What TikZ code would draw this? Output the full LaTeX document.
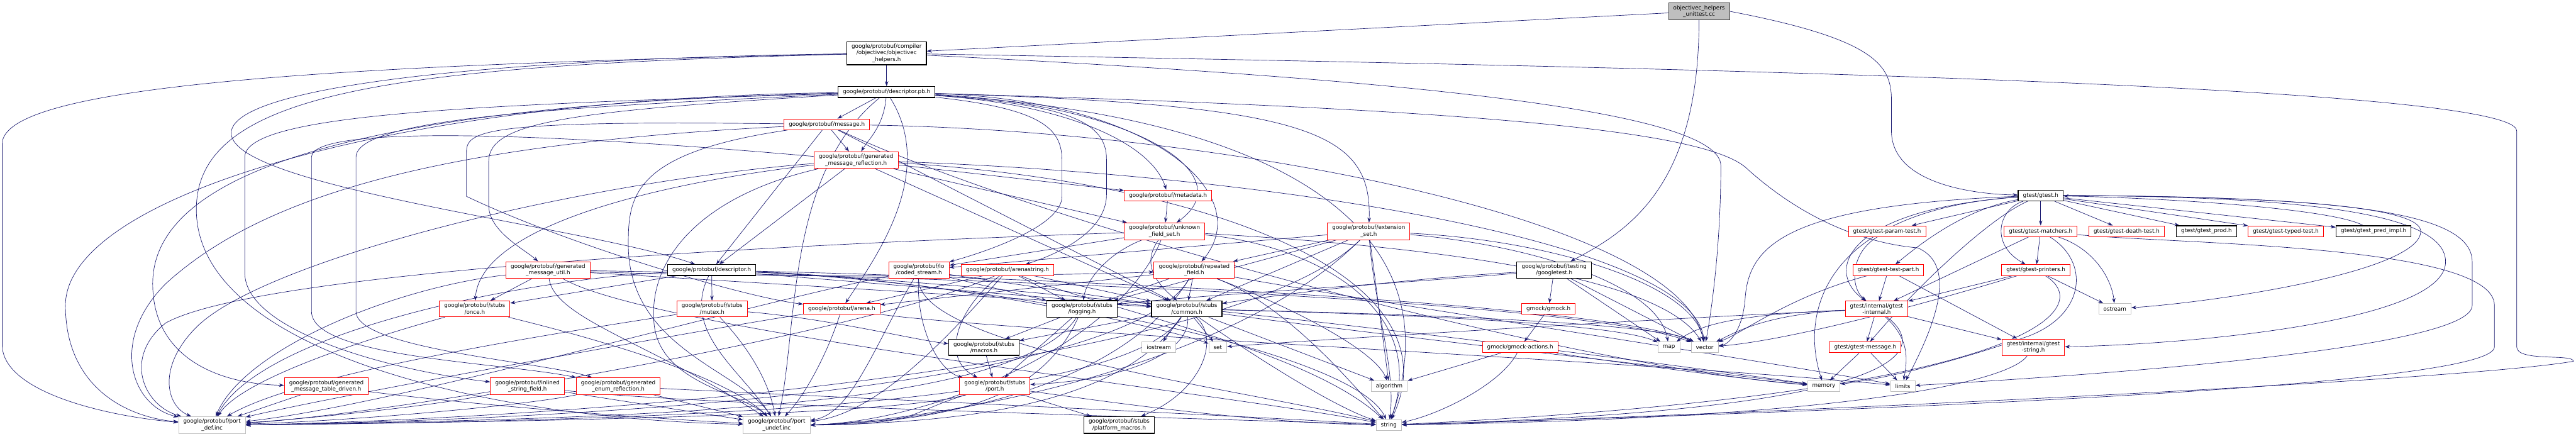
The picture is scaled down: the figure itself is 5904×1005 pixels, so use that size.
\documentclass[tikz,border=0pt]{standalone}
\usepackage{fontspec}
\setmainfont{DejaVu Sans}
\usepackage{tikz}
\usetikzlibrary{arrows.meta,backgrounds}
\definecolor{depblue}{HTML}{191970}
\definecolor{boxred}{HTML}{FF0000}
\definecolor{sysgray}{HTML}{BFBFBF}
\definecolor{rootgray}{HTML}{BFBFBF}

\begin{document}
\begin{tikzpicture}[x=0.1mm, y=-0.1mm,
      font=\fontsize{3.6}{4.2}\selectfont,
      file/.style={draw, fill=white, line width=0.4pt, inner xsep=1.1mm,
                   inner ysep=0.55mm, minimum height=2.5mm, align=center},
      hdr/.style={file, draw=black, line width=0.5pt},
      trunc/.style={file, draw=boxred},
      sys/.style={file, draw=sysgray},
      root/.style={file, draw=black!75, fill=rootgray},
      dep/.style={-{Stealth[length=1.15mm, width=0.8mm]}, draw=depblue, line width=0.28pt},
    ]
    \useasboundingbox (0,0) rectangle (5904,1005);

    % files, row by row
    \node[root]  (U)      at (3894,26)  {objectivec\_helpers\\\_unittest.cc};
    \node[hdr]   (OH)     at (2032,122) {google/protobuf/compiler\\/objectivec/objectivec\\\_helpers.h};
    \node[hdr]   (DPB)    at (2032,211) {google/protobuf/descriptor.pb.h};
    \node[trunc] (MSG)    at (1895,285) {google/protobuf/message.h};
    \node[trunc] (GMR)    at (1962,367) {google/protobuf/generated\\\_message\_reflection.h};
    \node[trunc] (META)   at (2677,448) {google/protobuf/metadata.h};
    \node[hdr]   (GTEST)  at (4677,448) {gtest/gtest.h};
    \node[trunc] (UFS)    at (2669,530) {google/protobuf/unknown\\\_field\_set.h};
    \node[trunc] (EXT)    at (3137,530) {google/protobuf/extension\\\_set.h};
    \node[trunc] (GPT)    at (4325,530) {gtest/gtest-param-test.h};
    \node[trunc] (GMAT)   at (4677,530) {gtest/gtest-matchers.h};
    \node[trunc] (GDT)    at (4874,530) {gtest/gtest-death-test.h};
    \node[hdr]   (GPROD)  at (5057,530) {gtest/gtest\_prod.h};
    \node[trunc] (GTT)    at (5239,530) {gtest/gtest-typed-test.h};
    \node[hdr]   (GPRED)  at (5440,530) {gtest/gtest\_pred\_impl.h};
    \node[trunc] (GMU)    at (1256,619) {google/protobuf/generated\\\_message\_util.h};
    \node[hdr]   (DESC)   at (1631,619) {google/protobuf/descriptor.h};
    \node[trunc] (CS)     at (2106,619) {google/protobuf/io\\/coded\_stream.h};
    \node[trunc] (ASTR)   at (2309,619) {google/protobuf/arenastring.h};
    \node[trunc] (RF)     at (2737,619) {google/protobuf/repeated\\\_field.h};
    \node[hdr]   (GTW)    at (3562,619) {google/protobuf/testing\\/googletest.h};
    \node[trunc] (GTP)    at (4328,619) {gtest/gtest-test-part.h};
    \node[trunc] (GPR)    at (4666,619) {gtest/gtest-printers.h};
    \node[trunc] (ONCE)   at (1088,708) {google/protobuf/stubs\\/once.h};
    \node[trunc] (MUTEX)  at (1632,708) {google/protobuf/stubs\\/mutex.h};
    \node[trunc] (ARENA)  at (1929,708) {google/protobuf/arena.h};
    \node[hdr]   (LOG)    at (2480,708) {google/protobuf/stubs\\/logging.h};
    \node[hdr]   (COMMON) at (2720,708) {google/protobuf/stubs\\/common.h};
    \node[trunc] (GMOCK)  at (3549,708) {gmock/gmock.h};
    \node[trunc] (GINT)   at (4301,708) {gtest/internal/gtest\\-internal.h};
    \node[sys]   (OST)    at (4847,708) {ostream};
    \node[hdr]   (MACROS) at (2255,796) {google/protobuf/stubs\\/macros.h};
    \node[sys]   (IOS)    at (2656,796) {iostream};
    \node[sys]   (SET)    at (2791,796) {set};
    \node[trunc] (GMA)    at (3484,796) {gmock/gmock-actions.h};
    \node[sys]   (MAP)    at (3825,796) {map};
    \node[sys]   (VEC)    at (3907,796) {vector};
    \node[trunc] (GMSG)   at (4275,796) {gtest/gtest-message.h};
    \node[trunc] (GSTR)   at (4660,796) {gtest/internal/gtest\\-string.h};
    \node[trunc] (TBL)    at (748,885)  {google/protobuf/generated\\\_message\_table\_driven.h};
    \node[trunc] (ISF)    at (1209,885) {google/protobuf/inlined\\\_string\_field.h};
    \node[trunc] (GER)    at (1417,885) {google/protobuf/generated\\\_enum\_reflection.h};
    \node[trunc] (PORT)   at (2280,885) {google/protobuf/stubs\\/port.h};
    \node[sys]   (ALG)    at (3184,885) {algorithm};
    \node[sys]   (MEM)    at (4180,885) {memory};
    \node[sys]   (LIM)    at (4361,885) {limits};
    \node[sys]   (PDEF)   at (486,974)  {google/protobuf/port\\\_def.inc};
    \node[sys]   (PUNDEF) at (1780,974) {google/protobuf/port\\\_undef.inc};
    \node[hdr]   (PLAT)   at (2565,974) {google/protobuf/stubs\\/platform\_macros.h};
    \node[sys]   (STR)    at (3183,974) {string};

    \begin{scope}[on background layer]
    \fill[white] (0,0) rectangle (5904,1005);

    % root file
    \draw[dep] (U) -- (OH);
    \draw[dep] (U.south) .. controls (3894,430) and (3730,530) .. (GTW);
    \draw[dep] (U.east) .. controls (4300,90) and (4335,150) .. (4335,230) -- (4335,300) .. controls (4335,420) and (4520,445) .. (GTEST);

    % objectivec_helpers.h
    \draw[dep] (OH) -- (DPB);
    \draw[dep] (OH) .. controls (1100,135) and (530,200) .. (530,305) .. controls (530,430) and (1350,520) .. (DESC);
    \draw[dep] (OH) .. controls (700,150) and (5,200) .. (5,330) -- (5,790) .. controls (5,900) and (250,955) .. (PDEF);
    \draw[dep] (OH) .. controls (900,150) and (450,210) .. (450,480) .. controls (450,800) and (1100,960) .. (PUNDEF);
    \draw[dep] (OH) .. controls (3600,150) and (5768,190) .. (5768,300) -- (5768,795) .. controls (5768,830) and (5898,810) .. (5898,828) .. controls (5600,880) and (3600,965) .. (STR);
    \draw[dep] (OH) .. controls (3300,185) and (3944,260) .. (3944,380) .. controls (3944,550) and (3925,700) .. (VEC);

    % descriptor.pb.h
    \draw[dep] (DPB) -- (MSG);
    \draw[dep] (DPB) .. controls (2025,290) and (1990,320) .. (GMR);
    \draw[dep] (DPB) .. controls (900,225) and (150,450) .. (150,700) .. controls (150,880) and (280,955) .. (PDEF);
    \draw[dep] (DPB) .. controls (1300,255) and (1120,280) .. (1120,370) -- (1120,470) .. controls (1120,530) and (1200,570) .. (GMU);
    \draw[dep] (DPB) .. controls (1100,240) and (561,260) .. (561,360) -- (561,625) .. controls (561,760) and (900,850) .. (ISF);
    \draw[dep] (DPB) .. controls (1300,245) and (816,270) .. (816,360) -- (816,714) .. controls (816,800) and (1250,830) .. (GER);
    \draw[dep] (DPB) .. controls (1000,235) and (350,350) .. (350,650) .. controls (350,820) and (500,880) .. (TBL);
    \draw[dep] (DPB) .. controls (2450,240) and (2640,330) .. (META);
    \draw[dep] (DPB) .. controls (2600,240) and (2850,400) .. (UFS);
    \draw[dep] (DPB) .. controls (2650,230) and (2880,450) .. (RF);
    \draw[dep] (DPB) .. controls (2400,250) and (2434,300) .. (2434,370) -- (2434,450) .. controls (2434,520) and (2250,580) .. (CS);
    \draw[dep] (DPB) .. controls (2450,240) and (2536,280) .. (2536,365) -- (2536,446) .. controls (2536,540) and (2400,590) .. (ASTR);
    \draw[dep] (DPB) .. controls (3000,240) and (3145,300) .. (EXT);
    \draw[dep] (DPB) .. controls (2150,400) and (2000,600) .. (ARENA);
    \draw[dep] (DPB) .. controls (1800,400) and (1830,750) .. (PUNDEF);
    \draw[dep] (DPB) .. controls (3000,270) and (3330,560) .. (STR);
    \draw[dep] (DPB) .. controls (3400,250) and (3900,300) .. (4000,383) .. controls (4150,520) and (4300,560) .. (4395,568) .. controls (4470,600) and (4460,700) .. (LIM);

    % message.h
    \draw[dep] (MSG) -- (GMR);
    \draw[dep] (MSG) -- (DESC);
    \draw[dep] (MSG) -- (COMMON);
    \draw[dep] (MSG) .. controls (1100,275) and (1069,300) .. (1069,350) -- (1069,450) .. controls (1300,560) and (1700,680) .. (ARENA);
    \draw[dep] (MSG) .. controls (1000,330) and (600,450) .. (380,650) .. controls (250,780) and (300,930) .. (PDEF);
    \draw[dep] (MSG) .. controls (1450,350) and (1440,450) .. (1440,560) .. controls (1440,800) and (1700,850) .. (PUNDEF);
    \draw[dep] (MSG) .. controls (2800,300) and (3850,500) .. (VEC);
    \draw[dep] (MSG) .. controls (2400,520) and (3600,840) .. (MEM);

    % generated_message_reflection.h
    \draw[dep] (GMR) -- (DESC);
    \draw[dep] (GMR) -- (META);
    \draw[dep] (GMR) -- (UFS);
    \draw[dep] (GMR) -- (COMMON);
    \draw[dep] (GMR) .. controls (1500,420) and (1100,520) .. (ONCE);
    \draw[dep] (GMR) .. controls (1200,300) and (714,290) .. (714,360) -- (714,714) .. controls (714,820) and (1150,830) .. (GER);
    \draw[dep] (GMR) .. controls (1300,420) and (600,600) .. (450,750) .. controls (360,840) and (380,930) .. (PDEF);
    \draw[dep] (GMR) .. controls (1600,450) and (1480,600) .. (1500,750) .. controls (1520,880) and (1700,900) .. (PUNDEF);
    \draw[dep] (GMR) .. controls (2800,420) and (3340,640) .. (STR);
    \draw[dep] (GMR) .. controls (2900,400) and (3880,550) .. (VEC);

    % descriptor.h
    \draw[dep] (DESC) -- (MUTEX);
    \draw[dep] (DESC) -- (ONCE);
    \draw[dep] (DESC) -- (COMMON);
    \draw[dep] (DESC) .. controls (2200,640) and (2700,760) .. (SET);
    \draw[dep] (DESC) .. controls (2300,650) and (3100,800) .. (STR);
    \draw[dep] (DESC) .. controls (2500,640) and (3700,700) .. (VEC);
    \draw[dep] (DESC) .. controls (2500,660) and (3800,830) .. (MEM);
    \draw[dep] (DESC) .. controls (1200,640) and (600,760) .. (PDEF);
    \draw[dep] (DESC) .. controls (1560,760) and (1700,850) .. (PUNDEF);

    % once, mutex, arena
    \draw[dep] (ONCE) .. controls (900,760) and (560,860) .. (PDEF);
    \draw[dep] (ONCE) .. controls (1300,760) and (1650,850) .. (PUNDEF);
    \draw[dep] (MUTEX) .. controls (1900,730) and (2100,780) .. (MACROS);
    \draw[dep] (MUTEX) .. controls (1300,760) and (700,850) .. (PDEF);
    \draw[dep] (MUTEX) .. controls (1700,780) and (1760,860) .. (PUNDEF);
    \draw[dep] (ARENA) .. controls (2300,760) and (3800,830) .. (LIM);
    \draw[dep] (ARENA) .. controls (1700,740) and (800,900) .. (PDEF);
    \draw[dep] (ARENA) .. controls (1900,800) and (1850,900) .. (PUNDEF);

    % generated_message_util.h
    \draw[dep] (GMU) -- (ONCE);
    \draw[dep] (GMU) -- (COMMON);
    \draw[dep] (GMU) .. controls (1800,640) and (2500,630) .. (RF);
    \draw[dep] (GMU) .. controls (900,660) and (560,800) .. (PDEF);
    \draw[dep] (GMU) .. controls (1270,730) and (1500,790) .. (PUNDEF);
    \draw[dep] (GMU) .. controls (1500,760) and (2800,900) .. (STR);
    \draw[dep] (GMU) .. controls (2000,630) and (3600,680) .. (VEC);

    % bottom row of protobuf headers
    \draw[dep] (TBL) -- (PDEF);
    \draw[dep] (TBL) .. controls (1100,930) and (1500,960) .. (PUNDEF);
    \draw[dep] (ISF) .. controls (1000,930) and (700,960) .. (PDEF);
    \draw[dep] (ISF) -- (PUNDEF);
    \draw[dep] (ISF) .. controls (1600,930) and (2800,960) .. (STR);
    \draw[dep] (GER) .. controls (1200,930) and (800,965) .. (PDEF);
    \draw[dep] (GER) -- (PUNDEF);
    \draw[dep] (GER) .. controls (1700,900) and (2800,950) .. (STR);

    % coded_stream.h, arenastring.h
    \draw[dep] (CS) -- (COMMON);
    \draw[dep] (CS) -- (LOG);
    \draw[dep] (CS) .. controls (2100,750) and (2150,850) .. (PORT);
    \draw[dep] (CS) .. controls (2100,800) and (2900,900) .. (STR);
    \draw[dep] (CS) .. controls (1700,700) and (900,930) .. (PDEF);
    \draw[dep] (CS) .. controls (2000,800) and (1950,950) .. (PUNDEF);
    \draw[dep] (ASTR) -- (LOG);
    \draw[dep] (ASTR) -- (COMMON);
    \draw[dep] (ASTR) -- (ARENA);
    \draw[dep] (ASTR) .. controls (2200,700) and (2150,820) .. (PORT);
    \draw[dep] (ASTR) .. controls (2500,700) and (3000,800) .. (STR);
    \draw[dep] (ASTR) .. controls (2000,760) and (900,950) .. (PDEF);
    \draw[dep] (ASTR) .. controls (2150,800) and (2000,950) .. (PUNDEF);

    % metadata.h, unknown_field_set.h
    \draw[dep] (META) -- (UFS);
    \draw[dep] (UFS) -- (CS);
    \draw[dep] (UFS) .. controls (2540,580) and (2490,640) .. (LOG);
    \draw[dep] (UFS) .. controls (2620,600) and (2640,640) .. (COMMON);
    \draw[dep] (UFS) .. controls (3000,560) and (3280,700) .. (STR);
    \draw[dep] (UFS) .. controls (3200,560) and (3800,620) .. (VEC);
    \draw[dep] (UFS) .. controls (1800,560) and (600,620) .. (380,740) .. controls (280,820) and (330,930) .. (PDEF);
    \draw[dep] (UFS) .. controls +(-100,250) and +(300,-10) .. (PUNDEF.east);

    % repeated_field.h, extension_set.h
    \draw[dep] (RF) -- (COMMON);
    \draw[dep] (RF) -- (LOG);
    \draw[dep] (RF) -- (ARENA);
    \draw[dep] (RF) .. controls (2950,700) and (3150,800) .. (ALG);
    \draw[dep] (RF) .. controls (2950,700) and (3100,880) .. (STR);
    \draw[dep] (RF) .. controls (3200,700) and (4000,820) .. (LIM);
    \draw[dep] (RF) .. controls +(-150,260) and +(900,-15) .. (PDEF.east);
    \draw[dep] (RF) .. controls +(-150,250) and +(350,-10) .. (PUNDEF.east);
    \draw[dep] (EXT) -- (ALG);
    \draw[dep] (EXT) -- (COMMON);
    \draw[dep] (EXT) -- (LOG);
    \draw[dep] (EXT) -- (CS);
    \draw[dep] (EXT) -- (RF);
    \draw[dep] (EXT) .. controls (3150,700) and (3200,850) .. (STR);
    \draw[dep] (EXT) .. controls (3500,560) and (3800,650) .. (MAP);
    \draw[dep] (EXT) .. controls (3550,550) and (3880,650) .. (VEC);
    \draw[dep] (EXT) .. controls +(-300,300) and +(900,-20) .. (PDEF.east);
    \draw[dep] (EXT) .. controls +(-300,300) and +(350,-15) .. (PUNDEF.east);

    % stubs
    \draw[dep] (COMMON) -- (IOS);
    \draw[dep] (COMMON) -- (SET);
    \draw[dep] (COMMON) -- (MACROS);
    \draw[dep] (COMMON) -- (ALG);
    \draw[dep] (COMMON) .. controls (2730,800) and (2600,870) .. (PORT);
    \draw[dep] (COMMON) .. controls (2800,780) and (2750,900) .. (PLAT);
    \draw[dep] (COMMON) .. controls (3200,720) and (3700,740) .. (MAP);
    \draw[dep] (COMMON) .. controls (3250,720) and (3800,740) .. (VEC);
    \draw[dep] (COMMON) .. controls (3100,760) and (3900,850) .. (MEM);
    \draw[dep] (COMMON) .. controls (2850,800) and (3050,930) .. (STR);
    \draw[dep] (COMMON) .. controls +(-150,230) and +(900,-10) .. (PDEF.east);
    \draw[dep] (COMMON) .. controls +(-150,220) and +(350,-5) .. (PUNDEF.east);
    \draw[dep] (LOG) -- (MACROS);
    \draw[dep] (LOG) -- (PORT);
    \draw[dep] (LOG) .. controls +(-150,230) and +(900,-15) .. (PDEF.east);
    \draw[dep] (LOG) .. controls +(-100,220) and +(300,-10) .. (PUNDEF.east);
    \draw[dep] (MACROS) -- (PORT);
    \draw[dep] (PORT) -- (PLAT);
    \draw[dep] (PORT) .. controls (2600,930) and (2900,970) .. (STR);
    \draw[dep] (PORT) .. controls +(-200,60) and +(900,-10) .. (PDEF.east);
    \draw[dep] (PORT) .. controls +(-200,60) and +(250,0) .. (PUNDEF.east);

    % googletest.h, gmock
    \draw[dep] (GTW) -- (GMOCK);
    \draw[dep] (GTW) -- (MAP);
    \draw[dep] (GTW) -- (VEC);
    \draw[dep] (GTW) .. controls (3200,640) and (2900,680) .. (COMMON);
    \draw[dep] (GTW) .. controls (3200,650) and (2700,680) .. (LOG);
    \draw[dep] (GMOCK) -- (GMA);
    \draw[dep] (GMA) -- (ALG);
    \draw[dep] (GMA) .. controls (3440,880) and (3300,950) .. (STR);
    \draw[dep] (GMA) .. controls (3700,830) and (4000,870) .. (MEM);

    % gtest.h
    \draw[dep] (GTEST) -- (GPT);
    \draw[dep] (GTEST) -- (GMAT);
    \draw[dep] (GTEST) -- (GDT);
    \draw[dep] (GTEST) -- (GPROD);
    \draw[dep] (GTEST) -- (GTT);
    \draw[dep] (GTEST) -- (GPRED);
    \draw[dep] (GTEST) .. controls (4500,480) and (4400,560) .. (GTP);
    \draw[dep] (GTEST) .. controls (4580,480) and (4560,560) .. (GPR);
    \draw[dep] (GTEST) .. controls (4560,500) and (4400,650) .. (GMSG);
    \draw[dep] (GTEST) .. controls (4230,480) and (4180,620) .. (GINT);
    \draw[dep] (GTEST) .. controls (4200,480) and (4120,700) .. (MEM);
    \draw[dep] (GTEST) .. controls (4100,470) and (4010,560) .. (4000,680) .. controls (3995,760) and (3960,790) .. (VEC);
    \draw[dep] (GTEST) .. controls (5300,450) and (5548,480) .. (5548,530) .. controls (5548,620) and (5100,690) .. (OST);
    \draw[dep] (GTEST) .. controls (5350,450) and (5605,500) .. (5605,600) .. controls (5605,740) and (5000,790) .. (GSTR);
    \draw[dep] (GTEST) .. controls (5400,450) and (5666,490) .. (5666,600) -- (5666,700) .. controls (5666,800) and (4800,860) .. (LIM);
    \draw[dep] (GPRED) .. controls (5350,480) and (5000,455) .. (GTEST);

    % gtest internals
    \draw[dep] (GPT) .. controls (4240,580) and (4240,660) .. (GINT);
    \draw[dep] (GTP) -- (GINT);
    \draw[dep] (GTP) -- (GSTR);
    \draw[dep] (GTP) .. controls (4100,680) and (4000,760) .. (VEC);
    \draw[dep] (GMAT) -- (GINT);
    \draw[dep] (GMAT) -- (GPR);
    \draw[dep] (GMAT) .. controls (4800,570) and (4840,640) .. (OST);
    \draw[dep] (GMAT) .. controls (4790,600) and (4780,720) .. (4650,770) .. controls (4450,840) and (4300,870) .. (MEM);
    \draw[dep] (GMAT) .. controls (5000,560) and (5717,560) .. (5717,700) -- (5717,795) .. controls (5717,880) and (4500,935) .. (STR);
    \draw[dep] (GPR) -- (GINT);
    \draw[dep] (GPR) -- (OST);
    \draw[dep] (GPR) .. controls (4800,700) and (4700,900) .. (STR);
    \draw[dep] (GPR) .. controls (4400,700) and (4100,780) .. (VEC);
    \draw[dep] (GINT) -- (GMSG);
    \draw[dep] (GINT) -- (GSTR);
    \draw[dep] (GINT) .. controls (4380,780) and (4370,830) .. (LIM);
    \draw[dep] (GINT) .. controls (4420,800) and (4400,940) .. (STR);
    \draw[dep] (GINT) .. controls (4000,720) and (3900,740) .. (MAP);
    \draw[dep] (GINT) .. controls (4050,720) and (3980,760) .. (VEC);
    \draw[dep] (GINT) .. controls (3800,730) and (3000,780) .. (SET);
    \draw[dep] (GMSG) -- (MEM);
    \draw[dep] (GMSG) -- (LIM);
    \draw[dep] (GSTR) .. controls (4600,880) and (4200,960) .. (STR);
    \end{scope}

  \end{tikzpicture}
\end{document}
